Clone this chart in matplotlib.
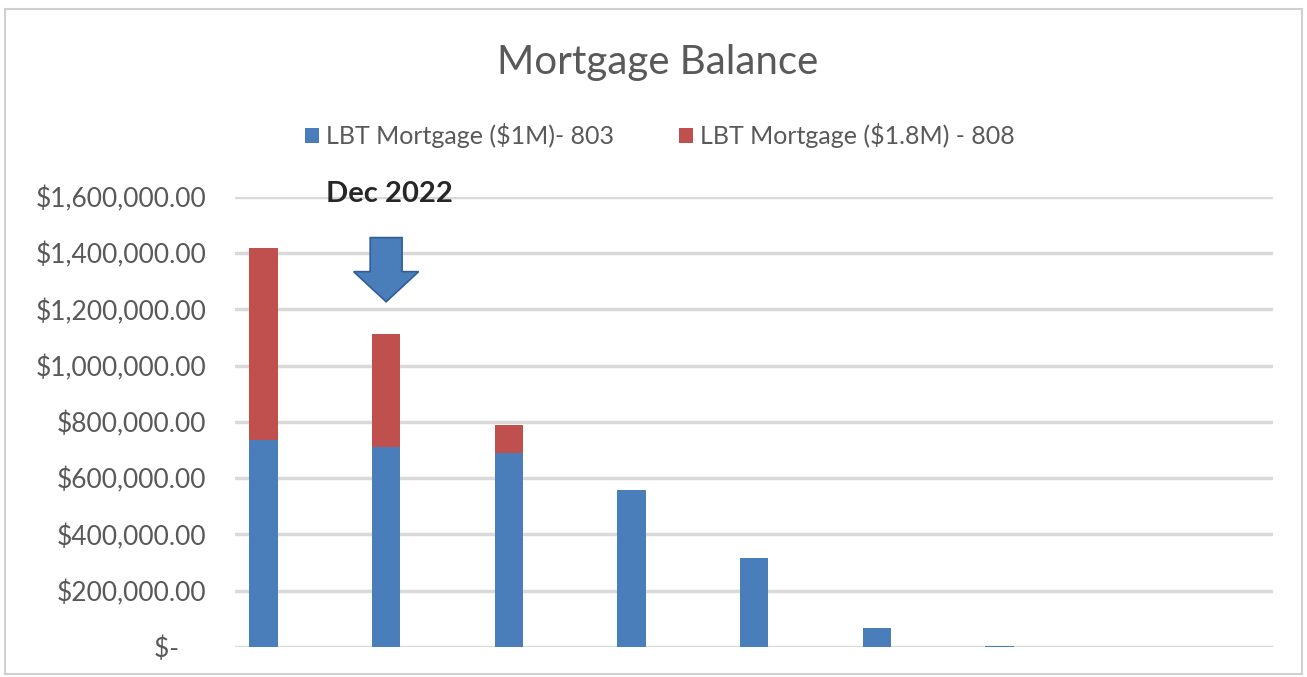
import numpy as np
import matplotlib.pyplot as plt
from matplotlib.patches import Rectangle, FancyArrow

# data (9 periods, last two empty)
periods = ["P1", "P2", "P3", "P4", "P5", "P6", "P7", "P8", "P9"]
loan_803 = [736000, 711000, 690000, 558000, 316000, 68000, 5000, 0, 0]
loan_808 = [683000, 402000, 99000, 0, 0, 0, 0, 0, 0]
series_names = ["LBT Mortgage ($1M)- 803", "LBT Mortgage ($1.8M) - 808"]
y_ticks = [0, 200000, 400000, 600000, 800000, 1000000, 1200000, 1400000, 1600000]

plt.rcParams['font.family'] = ['Lato', 'DejaVu Sans']

fig = plt.figure(figsize=(13.07, 6.77), dpi=100)
ax = fig.add_axes([0.18, 0.0443, 0.794, 0.665])

x = np.arange(len(periods))
blue = '#4A7EBB'
red = '#C0504D'
ax.bar(x, loan_803, width=0.23, color=blue, label=series_names[0], zorder=3)
ax.bar(x, loan_808, width=0.23, bottom=loan_803, color=red, label=series_names[1], zorder=3)

ax.set_xlim(-0.23, len(periods) - 1 + 0.23)
ax.set_ylim(0, 1600000)
ax.set_yticks(y_ticks)
ax.set_yticklabels(["$-    " if v == 0 else f"${v:,.2f}" for v in y_ticks])
ax.set_xticks([])
ax.tick_params(axis='y', length=0, pad=21, labelsize=19, labelcolor='#595959')
ax.grid(axis='y', color='#D9D9D9', linewidth=2.5, zorder=0)
for s in ax.spines.values():
    s.set_visible(False)

fig.text(0.503, 0.908, "Mortgage Balance", ha='center', va='center',
         fontsize=29, color='#595959')
fig.legend(loc='center', bbox_to_anchor=(0.505, 0.80), ncol=2, frameon=False,
           fontsize=18, handlelength=0.55, handleheight=0.55, handletextpad=0.3,
           columnspacing=2.6, labelcolor='#595959')

# annotation
ax.text(1.03, 1610000, "Dec 2022", ha='center', va='center', fontsize=21,
        color='#262626', fontweight='bold')
ax.add_patch(FancyArrow(1.0, 1455000, 0, -228000, width=0.26, head_width=0.53,
                        head_length=107000, length_includes_head=True,
                        facecolor='#4A7EBB', edgecolor='#2E5E95', linewidth=1.2,
                        zorder=4))

fig.patches.append(Rectangle((0.004, 0.004), 0.992, 0.982, transform=fig.transFigure,
                             fill=False, edgecolor='#D0D0D0', linewidth=1.5))

fig.savefig('out.png', dpi=100)
